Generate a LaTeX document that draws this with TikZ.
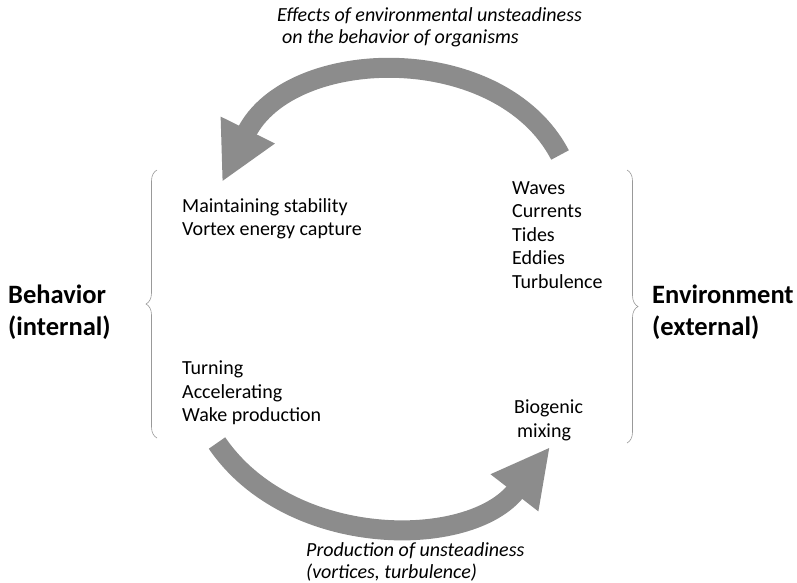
\documentclass[tikz,border=0pt]{standalone}
\usepackage{fontspec}
\setmainfont{Carlito}
\usetikzlibrary{arrows.meta,decorations.pathreplacing}

\definecolor{arrowgray}{gray}{0.55}
\definecolor{bracegray}{gray}{0.6}

\begin{document}
\begin{tikzpicture}[x=1pt,y=-1pt]
\tikzstyle{every node}+=[inner sep=0pt]
\tikzstyle{item}=[anchor=north west,align=left,font=\fontsize{20}{23.5}\selectfont]
\tikzstyle{side}=[anchor=west,align=left,font=\fontsize{26.5}{32}\selectfont\bfseries]
\tikzstyle{caption}=[anchor=north west,align=left,font=\fontsize{20}{22.5}\selectfont\itshape]
\tikzstyle{bigarrow}=[arrowgray,line width=20pt,-{Triangle[length=58pt,width=56pt]}]
\tikzstyle{bracket}=[bracegray,line width=0.6pt,decorate,decoration={brace,amplitude=11pt}]
\useasboundingbox (0,0) rectangle (797,582);

% side labels
\node [side] (behav) at (8,312) {Behavior\\(internal)};
\node [side] (env) at (652,312) {Environment\\(external)};

% lists
\node [item] (maint) at (182,198) {Maintaining stability\\Vortex energy capture};
\node [item] (turn) at (182,361) {Turning\\Accelerating\\Wake production};
\node [item] (waves) at (512,181) {Waves\\Currents\\Tides\\Eddies\\Turbulence};
\node [item] (biog) at (514,400) {Biogenic\\\hspace{3pt}mixing};

% braces
\coordinate (lbTop) at (157,170);
\coordinate (lbBot) at (157,438);
\coordinate (rbTop) at (627,170);
\coordinate (rbBot) at (627,443);
\draw [bracket] (lbBot) -- (lbTop);
\draw [bracket] (rbTop) -- (rbBot);

% curved arrows
\coordinate (effFrom) at (560,155);
\coordinate (effTo) at (222,182);
\draw [bigarrow] (effFrom) .. controls (500,40) and (290,45) .. (effTo);
\node [caption] (effects) at (277,7) {Effects of environmental unsteadiness\\\hspace{5pt}on the behavior of organisms};

\coordinate (prodFrom) at (217,443);
\coordinate (prodTo) at (550,447);
\draw [bigarrow] (prodFrom) .. controls (290,550) and (470,550) .. (prodTo);
\node [caption] (prod) at (306,542) {Production of unsteadiness\\(vortices, turbulence)};
\end{tikzpicture}
\end{document}
